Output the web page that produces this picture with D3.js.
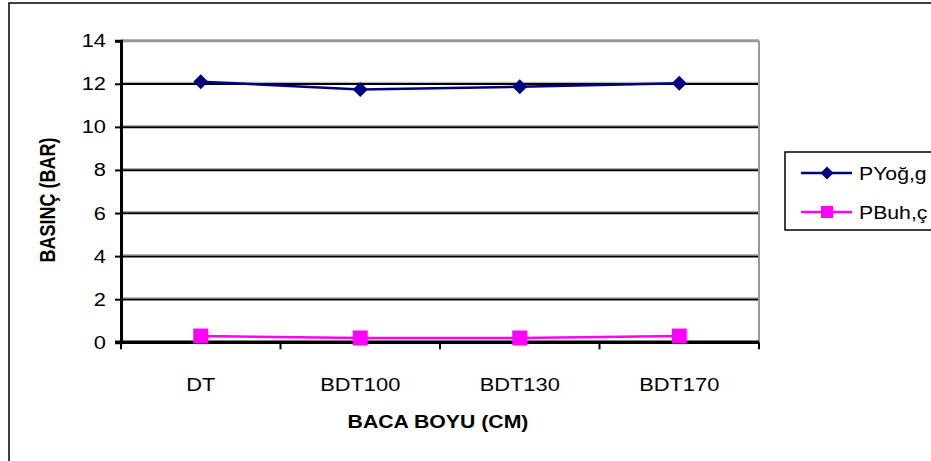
<!DOCTYPE html>
<html>
<head>
<meta charset="utf-8">
<script src="https://cdn.jsdelivr.net/npm/d3@7"></script>
<style>
  html, body { margin: 0; padding: 0; background: #fff; }
  svg { display: block; }
  text { font-family: Arial, "Liberation Sans", sans-serif; fill: #000; }
</style>
</head>
<body>
<svg id="chart" width="931" height="461"></svg>
<script>
const categories = ["DT", "BDT100", "BDT130", "BDT170"];
const seriesNames = ["PYoğ,g", "PBuh,ç"];
const pYog = [12.1, 11.74, 11.86, 12.02];
const pBuh = [0.29, 0.2, 0.2, 0.29];
const yTicks = [0, 2, 4, 6, 8, 10, 12, 14];
const yTitle = "BASINÇ (BAR)";
const xTitle = "BACA BOYU (CM)";

(function () {
const SX = 1.18; // horizontal stretch of the original picture
const svg = d3.select("#chart");
svg.append("rect").attr("width", 931).attr("height", 461).attr("fill", "#fff");

// outer chart border
svg.append("rect").attr("x", 9).attr("y", 3).attr("width", 940).attr("height", 470)
  .attr("fill", "none").attr("stroke", "#000").attr("stroke-width", 1.5);

const pL = 121, pR = 759, pT = 40.7, pB = 342.3;
const x = d3.scaleBand().domain(categories).range([pL, pR]).padding(0);
const y = d3.scaleLinear().domain([0, 14]).range([pB, pT]);
const cx = d => x(d) + x.bandwidth() / 2;

// gridlines
const g = svg.append("g");
const inner = yTicks.filter(t => t > 0 && t < 14);
g.selectAll("line.shadow").data(inner).enter().append("line")
  .attr("x1", pL).attr("x2", pR).attr("y1", d => y(d) - 1.5).attr("y2", d => y(d) - 1.5)
  .attr("stroke", "#aaa").attr("stroke-width", 1);
g.selectAll("line.grid").data(inner).enter().append("line")
  .attr("x1", pL).attr("x2", pR).attr("y1", d => y(d) + 0.3).attr("y2", d => y(d) + 0.3)
  .attr("stroke", "#000").attr("stroke-width", 2);
g.append("line").attr("x1", pL).attr("x2", pR).attr("y1", y(14)).attr("y2", y(14))
  .attr("stroke", "#999").attr("stroke-width", 3);
g.append("line").attr("x1", pR).attr("x2", pR).attr("y1", y(14)).attr("y2", y(0))
  .attr("stroke", "#999").attr("stroke-width", 2);

// y axis
const yAxis = d3.axisLeft(y).tickValues(yTicks).tickSize(6).tickFormat(d => "");
const ya = svg.append("g").attr("transform", `translate(${pL},0)`).call(yAxis);
ya.select(".domain").attr("stroke", "#000").attr("stroke-width", 3);
ya.selectAll(".tick line").attr("stroke", "#000").attr("stroke-width", 2);
svg.selectAll("text.ytick").data(yTicks).enter().append("text")
  .attr("transform", d => `translate(106,${y(d) + 6.5}) scale(${SX},1)`)
  .attr("text-anchor", "end").attr("font-size", 18.5).text(d => d);

// x axis
svg.append("line").attr("x1", pL - 6).attr("x2", pR).attr("y1", pB).attr("y2", pB)
  .attr("stroke", "#000").attr("stroke-width", 3.5);
const bounds = categories.map(c => x(c)).concat([pR]);
svg.selectAll("line.xtick").data(bounds).enter().append("line")
  .attr("x1", d => d).attr("x2", d => d).attr("y1", pB).attr("y2", pB + 7)
  .attr("stroke", "#000").attr("stroke-width", 2);
svg.selectAll("text.xtick").data(categories).enter().append("text")
  .attr("transform", d => `translate(${cx(d)},391) scale(${SX},1)`)
  .attr("text-anchor", "middle").attr("font-size", 18.5).text(d => d);

// titles
svg.append("text").attr("transform", `translate(438,428) scale(${SX},1)`)
  .attr("text-anchor", "middle").attr("font-size", 18).attr("font-weight", "bold").text(xTitle);
svg.append("text").attr("transform", `translate(55,200) scale(${SX},1) rotate(-90)`)
  .attr("text-anchor", "middle").attr("font-size", 18).attr("font-weight", "bold").text(yTitle);

// series
const line = d3.line().x((d, i) => cx(categories[i])).y(d => y(d));
const diamond = (px, py, w, h) => `M${px},${py - h}L${px + w},${py}L${px},${py + h}L${px - w},${py}Z`;

svg.append("path").datum(pBuh).attr("d", line).attr("fill", "none")
  .attr("stroke", "#FF00FF").attr("stroke-width", 2.5);
svg.selectAll("rect.sq").data(pBuh).enter().append("rect")
  .attr("x", (d, i) => cx(categories[i]) - 7.5).attr("y", d => y(d) - 7.5)
  .attr("width", 15).attr("height", 15).attr("fill", "#FF00FF");

svg.append("path").datum(pYog).attr("d", line).attr("fill", "none")
  .attr("stroke", "#000080").attr("stroke-width", 2.5);
svg.selectAll("path.dm").data(pYog).enter().append("path")
  .attr("d", (d, i) => diamond(cx(categories[i]), y(d), 7.5, 7.5)).attr("fill", "#000080");

// legend
const lg = svg.append("g");
lg.append("rect").attr("x", 785).attr("y", 152).attr("width", 200).attr("height", 78)
  .attr("fill", "#fff").attr("stroke", "#000").attr("stroke-width", 1.5);
const ly = [173, 212];
const colors = ["#000080", "#FF00FF"];
seriesNames.forEach((n, i) => {
  lg.append("line").attr("x1", 801).attr("x2", 852).attr("y1", ly[i]).attr("y2", ly[i])
    .attr("stroke", colors[i]).attr("stroke-width", 2.5);
  if (i === 0) lg.append("path").attr("d", diamond(827, ly[i], 6.5, 6.5)).attr("fill", colors[i]);
  else lg.append("rect").attr("x", 821).attr("y", ly[i] - 6).attr("width", 12).attr("height", 12).attr("fill", colors[i]);
  lg.append("text").attr("transform", `translate(859,${ly[i] + 6.5}) scale(${SX},1)`)
    .attr("font-size", 18).text(n);
});
})();
</script>
</body>
</html>
